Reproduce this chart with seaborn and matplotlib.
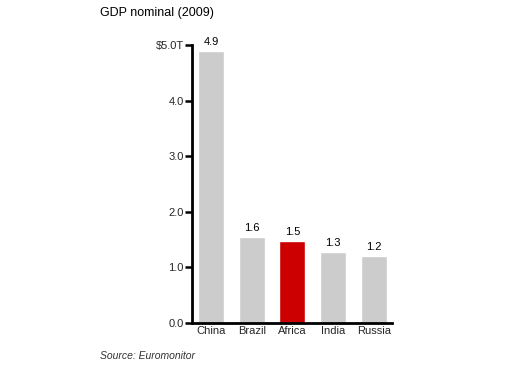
import matplotlib
matplotlib.use("Agg")
import matplotlib.pyplot as plt
import seaborn as sns
import pandas as pd

categories = ["China", "Brazil", "Africa", "India", "Russia"]
values = [4.9, 1.55, 1.47, 1.28, 1.21]
value_labels = ["4.9", "1.6", "1.5", "1.3", "1.2"]
bar_colors = ["#cccccc", "#cccccc", "#cc0000", "#cccccc", "#cccccc"]
y_ticks = [0, 1, 2, 3, 4, 5]
y_tick_labels = ["0.0", "1.0", "2.0", "3.0", "4.0", "$5.0T"]
title = "GDP nominal (2009)"
source = "Source: Euromonitor"

sns.set_theme(style="white")
plt.rcParams["font.family"] = ["Liberation Sans", "DejaVu Sans"]

df = pd.DataFrame({"country": categories, "gdp": values})

fig = plt.figure(figsize=(5.3, 3.67), dpi=100)
ax = fig.add_axes([192 / 530, 1 - 323 / 367, 200 / 530, 278 / 367])

sns.barplot(data=df, x="country", y="gdp", hue="country",
            palette=dict(zip(categories, bar_colors)), order=categories,
            width=0.64, legend=False, ax=ax, saturation=1)

for i, (v, lab) in enumerate(zip(values, value_labels)):
    ax.text(i, v + 0.07, lab, ha="center", va="bottom", fontsize=8, color="black")

ax.set_ylim(0, 5.0)
ax.set_xlim(-0.47, 4.45)
ax.set_yticks(y_ticks)
ax.set_yticklabels(y_tick_labels)
ax.set_xlabel("")
ax.set_ylabel("")
ax.tick_params(axis="y", direction="out", length=5, width=1.8, labelsize=8, pad=1, color="black", left=True)
ax.tick_params(axis="x", length=0, labelsize=8, pad=2)
for s in ["top", "right"]:
    ax.spines[s].set_visible(False)
for s in ["left", "bottom"]:
    ax.spines[s].set_color("black")
    ax.spines[s].set_linewidth(2)

fig.text(100 / 530, 1 - 13 / 367, title, fontsize=9, ha="left", va="center", color="black")
fig.text(100 / 530, 1 - 356 / 367, source, fontsize=7.5, ha="left", va="center",
         style="italic", color="#333333")

fig.savefig("out.png", dpi=100)
